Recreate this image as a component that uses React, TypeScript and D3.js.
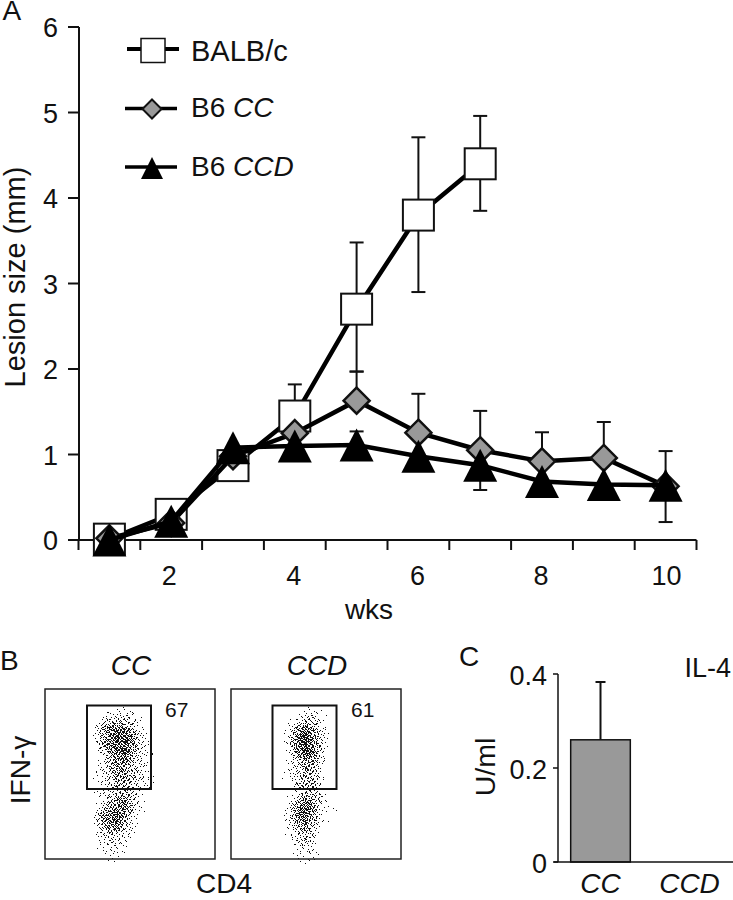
import React from "react";
import * as d3 from "d3";

// Panel A
const weeks = [1, 2, 3, 4, 5, 6, 7, 8, 9, 10];
const xTickLabels = [2, 4, 6, 8, 10];
const yTicks = [0, 1, 2, 3, 4, 5, 6];
const balbMean = [0.01, 0.3, 0.87, 1.45, 2.7, 3.8, 4.4];
const balbUpper = [null, null, null, 1.82, 3.48, 4.71, 4.96];
const balbLower = [null, null, null, null, 1.97, 2.9, 3.85];
const ccMean = [0.02, 0.2, 0.98, 1.25, 1.63, 1.255, 1.05, 0.92, 0.96, 0.63];
const ccUpper = [null, null, null, null, 1.97, 1.71, 1.51, 1.26, 1.38, 1.04];
const ccdMean = [0, 0.22, 1.08, 1.1, 1.11, 0.98, 0.875, 0.685, 0.65, 0.64];
const ccdUpper = [null, null, null, null, 1.27, null, null, null, null, null];
const ccdLower = [null, null, null, null, null, null, 0.585, null, null, 0.21];

// Panel B: dot density (0-9) read per 8px cell, rows top to bottom
const ccDensity = [
  [0, 1, 1, 1, 1, 0, 0], [1, 3, 3, 3, 2, 1, 0], [3, 6, 7, 7, 4, 1, 0], [4, 7, 8, 9, 6, 2, 0],
  [3, 6, 8, 9, 6, 2, 1], [1, 4, 7, 9, 5, 2, 1], [1, 3, 6, 8, 3, 2, 1], [1, 3, 5, 5, 3, 2, 0],
  [1, 3, 5, 5, 3, 2, 1], [1, 2, 4, 5, 3, 2, 1], [1, 2, 3, 4, 3, 1, 0], [1, 3, 5, 6, 3, 1, 0],
  [2, 5, 7, 7, 3, 1, 0], [5, 7, 8, 5, 2, 0, 0], [3, 7, 7, 4, 1, 0, 0], [2, 4, 4, 2, 1, 0, 0],
  [1, 2, 2, 1, 0, 0, 0], [1, 1, 2, 1, 0, 0, 0], [0, 1, 1, 0, 0, 0, 0],
];
const ccdDensity = [
  [0, 0, 1, 1, 1, 0], [0, 1, 3, 3, 1, 0], [1, 5, 7, 5, 2, 0], [2, 7, 9, 6, 2, 0],
  [2, 7, 9, 6, 2, 0], [1, 6, 8, 7, 2, 0], [1, 3, 6, 5, 1, 0], [1, 2, 5, 4, 1, 0],
  [1, 2, 4, 4, 1, 0], [0, 3, 5, 5, 1, 0], [0, 1, 3, 3, 1, 0], [1, 3, 6, 5, 2, 0],
  [2, 6, 9, 5, 1, 1], [2, 6, 9, 4, 1, 0], [1, 4, 7, 3, 1, 0], [1, 3, 4, 2, 0, 0],
  [0, 2, 3, 2, 0, 0], [0, 1, 2, 1, 0, 0], [0, 1, 1, 1, 0, 0],
];

// Panel C
const il4Groups = ["CC", "CCD"];
const il4Values = [0.26, 0];
const il4Upper = [0.383, null];
const il4Ticks = [0, 0.2, 0.4];

const FONT = "'Liberation Sans', Arial, sans-serif";
const x = d3.scaleLinear().domain([0.5, 10.5]).range([78.5, 696.5]);
const y = d3.scaleLinear().domain([0, 6]).range([540, 27]);
const yC = d3.scaleLinear().domain([0, 0.4]).range([862, 674]);
const xC = d3.scaleBand<string>().domain(il4Groups).range([556, 734]).paddingInner(0.33).paddingOuter(0.165);

const linePath = (vals: number[]) =>
  d3.line<number>().x((_, i) => x(weeks[i])).y((v) => y(v))(vals) || "";

const tri = (cx: number, cy: number, w: number, h: number) =>
  `M${cx},${cy - h / 2}L${cx + w / 2},${cy + h / 2}L${cx - w / 2},${cy + h / 2}Z`;
const dia = (cx: number, cy: number, r: number) =>
  `M${cx},${cy - r}L${cx + r},${cy}L${cx},${cy + r}L${cx - r},${cy}Z`;

function ErrorBars({ mean, bound }: { mean: number[]; bound: (number | null)[] }) {
  return (
    <g stroke="#111" strokeWidth={2}>
      {bound.map((b, i) =>
        b === null ? null : (
          <g key={i}>
            <line x1={x(weeks[i])} x2={x(weeks[i])} y1={y(mean[i])} y2={y(b)} />
            <line x1={x(weeks[i]) - 7} x2={x(weeks[i]) + 7} y1={y(b)} y2={y(b)} />
          </g>
        )
      )}
    </g>
  );
}

// Radical inverse (Halton): an even, deterministic spread of candidate dots, kept according to the density read above
const radical = (i: number, base: number) => {
  let f = 1, r = 0;
  while (i > 0) { f /= base; r += f * (i % base); i = Math.floor(i / base); }
  return r;
};

function stipplePath(grid: number[][], x0: number, y0: number) {
  const cell = 8;
  const rows = grid.length, cols = grid[0].length;
  const at = (r: number, c: number) => (r < 0 || c < 0 || r >= rows || c >= cols ? 0 : grid[r][c]);
  const w = cols * cell + 8, h = rows * cell + 8;
  const candidates = Math.round(w * h * 0.85);
  let out = "";
  for (let k = 1; k <= candidates; k++) {
    const px = radical(k, 2) * w - 4, py = radical(k, 3) * h - 4;
    const fc = px / cell - 0.5, fr = py / cell - 0.5;
    const c = Math.floor(fc), r = Math.floor(fr);
    const tx = fc - c, ty = fr - r;
    const d = (at(r, c) * (1 - tx) + at(r, c + 1) * tx) * (1 - ty) + (at(r + 1, c) * (1 - tx) + at(r + 1, c + 1) * tx) * ty;
    if (radical(k, 5) < Math.pow(d / 9, 1.2)) {
      out += `M${Math.round(x0 + px)},${Math.round(y0 + py)}h1v1h-1z`;
    }
  }
  return out;
}

function Flow({ x0, grid, gx, title, pct, pctX, cloudX }: { x0: number; grid: number[][]; gx: number; title: string; pct: string; pctX: number; cloudX: number }) {
  return (
    <g>
      <path d={stipplePath(grid, cloudX, 708)} fill="#111" />
      <rect x={x0} y={689} width={170} height={170} fill="none" stroke="#222" strokeWidth={1.5} />
      <rect x={gx} y={705.5} width={64} height={83.5} fill="none" stroke="#111" strokeWidth={2} />
      <text x={x0 + 86} y={675} fontSize={28} fontStyle="italic" textAnchor="middle">{title}</text>
      <text x={pctX} y={717} fontSize={21}>{pct}</text>
    </g>
  );
}

export default function App() {
  return (
    <svg
      width={733}
      height={900}
      viewBox="0 0 733 900"
      style={{ position: "absolute", left: 0, top: 0, background: "#fff" }}
      fontFamily={FONT}
      fill="#111"
    >
      {/* Panel A */}
      <text x={2.5} y={20} fontSize={28}>A</text>
      <g stroke="#111" strokeWidth={2} fill="none">
        <line x1={79} x2={79} y1={y(6)} y2={y(0)} />
        <line x1={78} x2={696.5} y1={y(0)} y2={y(0)} />
        {yTicks.map((t) => <line key={t} x1={68} x2={79} y1={y(t)} y2={y(t)} />)}
        {d3.range(0, 11).map((i) => <line key={i} x1={x(i + 0.5)} x2={x(i + 0.5)} y1={540} y2={550} />)}
      </g>
      {yTicks.map((t) => (
        <text key={t} x={58} y={y(t) + 10} fontSize={27} textAnchor="end">{t}</text>
      ))}
      {xTickLabels.map((t) => (
        <text key={t} x={x(t) - (t === 10 ? -1 : t === 2 ? 2 : 1)} y={585} fontSize={27} textAnchor="middle">{t}</text>
      ))}
      <text x={369} y={619} fontSize={28} textAnchor="middle">wks</text>
      <text transform="translate(25,277) rotate(-90)" fontSize={29} textAnchor="middle">Lesion size (mm)</text>

      <ErrorBars mean={balbMean} bound={balbUpper} />
      <ErrorBars mean={balbMean} bound={balbLower} />
      <ErrorBars mean={ccMean} bound={ccUpper} />
      <ErrorBars mean={ccdMean} bound={ccdUpper} />
      <ErrorBars mean={ccdMean} bound={ccdLower} />

      <path d={linePath(balbMean)} fill="none" stroke="#000" strokeWidth={4.5} />
      {balbMean.map((v, i) => (
        <rect key={i} x={x(weeks[i]) - 15.5} y={y(v) - 15.5} width={31} height={31} fill="#fff" stroke="#111" strokeWidth={2} />
      ))}
      <path d={linePath(ccMean)} fill="none" stroke="#000" strokeWidth={4.5} />
      {ccMean.map((v, i) => (
        <path key={i} d={dia(x(weeks[i]), y(v), 13)} fill="#999" stroke="#111" strokeWidth={2.5} />
      ))}
      <path d={linePath(ccdMean)} fill="none" stroke="#000" strokeWidth={4.5} />
      {ccdMean.map((v, i) => (
        <path key={i} d={tri(x(weeks[i]), y(v), 34, 33)} fill="#000" />
      ))}

      {/* Legend */}
      <line x1={127} x2={179} y1={49} y2={49} stroke="#000" strokeWidth={4} />
      <rect x={141} y={38.5} width={24} height={24} fill="#fff" stroke="#111" strokeWidth={1.5} />
      <text x={191} y={61} fontSize={29}>BALB/c</text>
      <line x1={125} x2={177} y1={108.5} y2={108.5} stroke="#000" strokeWidth={3.5} />
      <path d={dia(152, 109, 9.5)} fill="#999" stroke="#111" strokeWidth={2} />
      <text x={191} y={117} fontSize={28}>B6 <tspan fontStyle="italic">CC</tspan></text>
      <line x1={125} x2={177} y1={167} y2={167} stroke="#000" strokeWidth={3.5} />
      <path d={tri(152, 168, 22, 22)} fill="#000" />
      <text x={191} y={176} fontSize={28}>B6 <tspan fontStyle="italic">CCD</tspan></text>

      {/* Panel B */}
      <text x={0} y={670} fontSize={28}>B</text>
      <Flow x0={45} grid={ccDensity} gx={87} title="CC" pct="67" pctX={165} cloudX={96} />
      <Flow x0={231} grid={ccdDensity} gx={272.5} title="CCD" pct="61" pctX={351} cloudX={285} />
      <text transform="translate(30,770) rotate(-90)" fontSize={28} textAnchor="middle">IFN-γ</text>
      <text x={224} y={893} fontSize={28} textAnchor="middle">CD4</text>

      {/* Panel C */}
      <text x={459} y={666} fontSize={28}>C</text>
      <text x={731} y={677} fontSize={27} textAnchor="end">IL-4</text>
      <text transform="translate(495,767) rotate(-90)" fontSize={28.5} textAnchor="middle">U/ml</text>
      {il4Values.map((v, i) =>
        v > 0 ? (
          <rect key={i} x={xC(il4Groups[i])} y={yC(v)} width={xC.bandwidth()} height={yC(0) - yC(v)} fill="#999" stroke="#111" strokeWidth={1.5} />
        ) : null
      )}
      {il4Upper.map((u, i) =>
        u === null ? null : (
          <g key={i} stroke="#111" strokeWidth={2}>
            <line x1={xC(il4Groups[i])! + xC.bandwidth() / 2} x2={xC(il4Groups[i])! + xC.bandwidth() / 2} y1={yC(il4Values[i])} y2={yC(u)} />
            <line x1={xC(il4Groups[i])! + xC.bandwidth() / 2 - 5} x2={xC(il4Groups[i])! + xC.bandwidth() / 2 + 5} y1={yC(u)} y2={yC(u)} />
          </g>
        )
      )}
      <g stroke="#111" strokeWidth={1.5}>
        <line x1={558} x2={558} y1={yC(0.4)} y2={yC(0)} />
        <line x1={554} x2={733} y1={yC(0)} y2={yC(0)} />
        {il4Ticks.map((t) => <line key={t} x1={553} x2={558} y1={yC(t)} y2={yC(t)} />)}
      </g>
      {il4Ticks.map((t) => (
        <text key={t} x={547} y={yC(t) + 11} fontSize={27} textAnchor="end">{t}</text>
      ))}
      {il4Groups.map((g) => (
        <text key={g} x={xC(g)! + xC.bandwidth() / 2} y={893} fontSize={28} fontStyle="italic" textAnchor="middle">{g}</text>
      ))}
    </svg>
  );
}
